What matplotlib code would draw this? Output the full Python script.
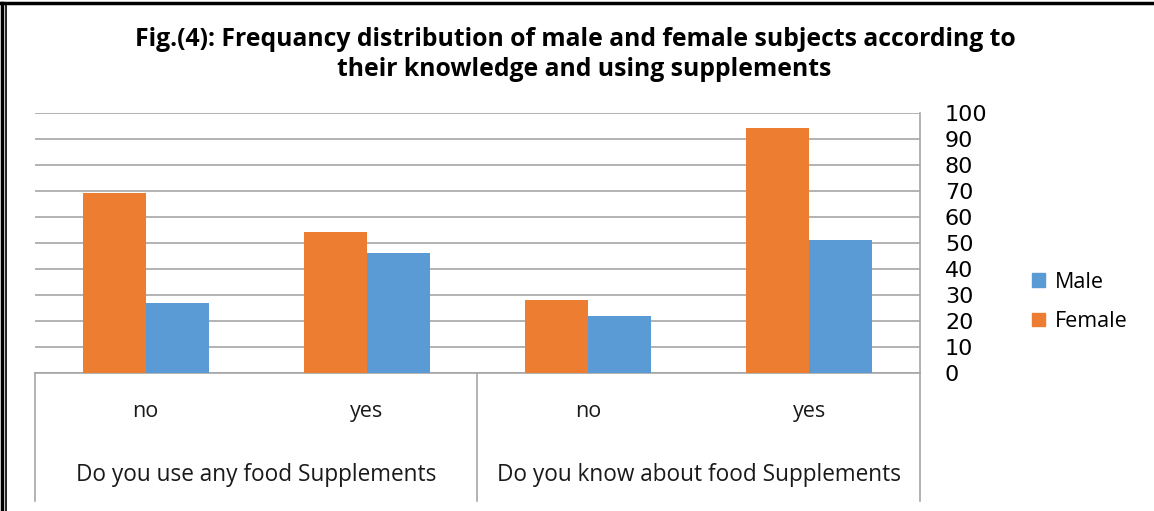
import matplotlib.pyplot as plt
import numpy as np
from matplotlib.lines import Line2D
from matplotlib.patches import Patch

# Dados do gráfico
categorias = ["no", "yes", "no", "yes"]
grupos = ["Do you use any food Supplements", "Do you know about food Supplements"]
female = [69, 54, 28, 94]
male = [27, 46, 22, 51]
yticks = list(range(0, 101, 10))

cor_female = "#ED7D31"
cor_male = "#5B9BD5"
cor_grade = "#A6A6A6"

W, H = 1154, 511
fig = plt.figure(figsize=(W / 100, H / 100), dpi=100)

# área do gráfico em pixels (esquerda, topo, direita, base)
x0, y_top, x1, y_base = 35, 112.7, 920, 373
ax = fig.add_axes([x0 / W, 1 - y_base / H, (x1 - x0) / W, (y_base - y_top) / H])

x = np.arange(len(categorias))
largura = 0.285
ax.bar(x - largura / 2, female, largura, color=cor_female, zorder=3)
ax.bar(x + largura / 2, male, largura, color=cor_male, zorder=3)

ax.set_xlim(-0.5, len(categorias) - 0.5)
ax.set_ylim(0, 100)
ax.set_yticks(yticks)
ax.yaxis.tick_right()
ax.tick_params(axis="y", length=0, pad=18, labelsize=16)
for lbl in ax.get_yticklabels():
    lbl.set_fontfamily("DejaVu Sans")
ax.set_xticks([])
ax.grid(axis="y", color=cor_grade, linewidth=1.2, zorder=0)
for s in ["top", "left", "bottom"]:
    ax.spines[s].set_visible(False)
ax.spines["right"].set_color(cor_grade)
ax.spines["right"].set_linewidth(1.2)

# eixo de categorias em dois níveis
trans = ax.get_xaxis_transform()
fundo = -(501 - y_base) / (y_base - y_top)
ax.plot([-0.5, 3.5], [0, 0], transform=trans, color=cor_grade, lw=1.2, clip_on=False)
for xv in [-0.5, 1.5, 3.5]:
    ax.plot([xv, xv], [0, fundo], transform=trans, color=cor_grade, lw=1.2, clip_on=False)

y_cat = -(411 - y_base) / (y_base - y_top)
y_grp = -(475 - y_base) / (y_base - y_top)
for xi, c in zip(x, categorias):
    ax.text(xi, y_cat, c, transform=trans, ha="center", va="center",
            fontsize=15.5, family="Open Sans", color="#1a1a1a")
for gi, g in enumerate(grupos):
    ax.text(gi * 2 + 0.5, y_grp, g, transform=trans, ha="center", va="center",
            fontsize=16.3, family="Open Sans", color="#1a1a1a")

# título
fig.text(575 / W, 1 - 40 / H, "Fig.(4): Frequancy distribution of male and female subjects according to",
         ha="center", va="center", fontsize=17.8, fontweight="bold", family="Open Sans")
fig.text(584 / W, 1 - 70 / H, "their knowledge and using supplements",
         ha="center", va="center", fontsize=17.8, fontweight="bold", family="Open Sans")

# legenda
handles = [Patch(color=cor_male, label="Male"), Patch(color=cor_female, label="Female")]
fig.legend(handles=handles, loc="center left", bbox_to_anchor=(1015 / W, 1 - 302 / H),
           frameon=False, prop={"family": "Open Sans", "size": 15.5},
           handlelength=0.6, handleheight=0.6, handletextpad=0.45, labelspacing=0.85,
           borderpad=0.3)

# moldura da figura
fig.add_artist(Line2D([0, 1], [1 - 3 / H, 1 - 3 / H], color="black", lw=2.5))
fig.add_artist(Line2D([2 / W, 2 / W], [0, 1 - 3 / H], color="black", lw=2.5))
fig.add_artist(Line2D([6 / W, 6 / W], [0, 1 - 3 / H], color="black", lw=1.2))

fig.savefig("out.png", dpi=100)
